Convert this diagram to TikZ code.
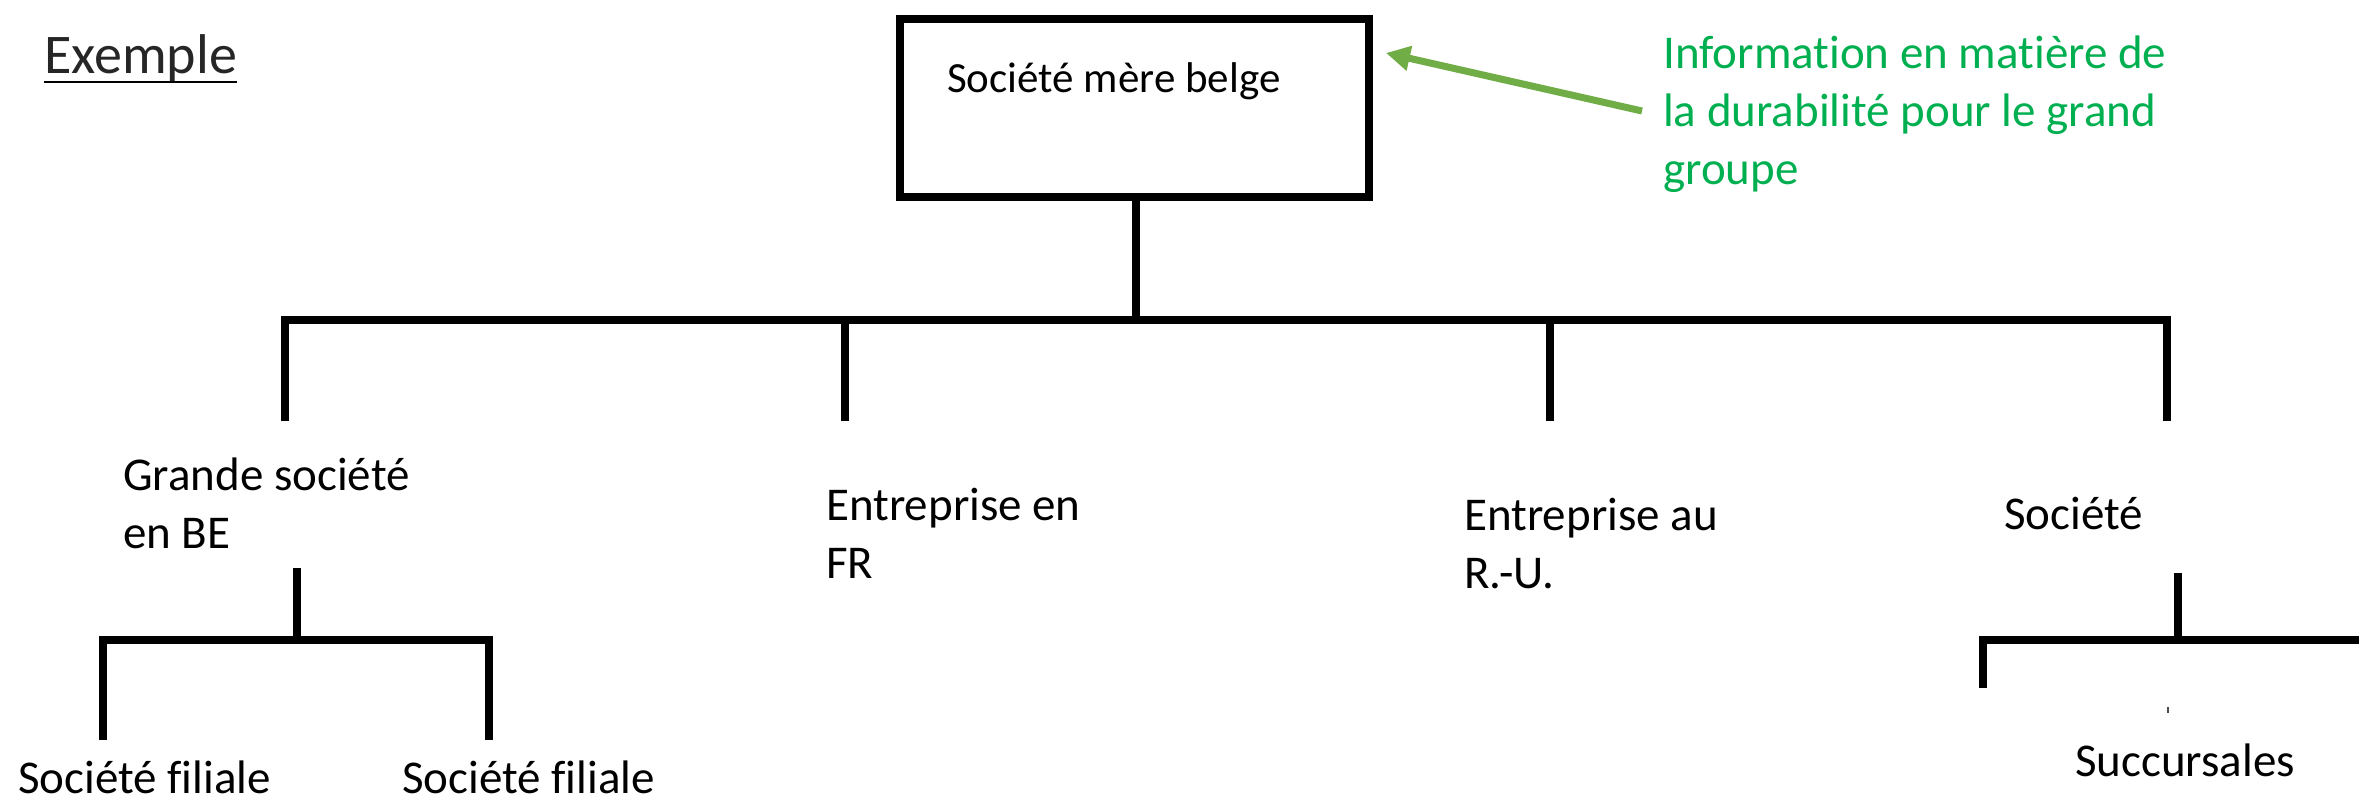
\documentclass[tikz,border=0pt]{standalone}
\usepackage{fontspec}
\setmainfont[RawFeature={-liga;-clig;-calt;-dlig}]{Carlito}
\usetikzlibrary{arrows.meta}
\definecolor{arrowgreen}{HTML}{70AD47}
\definecolor{txtgreen}{HTML}{00B050}
\newcommand{\twoln}[2]{\vtop{\hbox{#1}\hbox{#2}}}
\newcommand{\threeln}[3]{\vtop{\hbox{#1}\hbox{#2}\hbox{#3}}}
\begin{document}
\begin{tikzpicture}[x=1pt,y=-1pt,
  tree/.style={line width=7.5pt, line join=miter},
  lbl/.style={anchor=base west, inner sep=0pt, font=\fontsize{47pt}{58pt}\selectfont}]
\useasboundingbox (0,0) rectangle (2359,801);
\fill[white] (0,0) rectangle (2359,801);

% title
\node[anchor=base west, inner sep=0pt, font=\fontsize{56pt}{68pt}\selectfont, text=black!85] (ex) at (44,73) {Exemple};
\draw[line width=2.5pt] ([yshift=-9pt]ex.base west) -- ([yshift=-9pt]ex.base east);

% parent box
\node[draw, line width=7.5pt, minimum width=469pt, minimum height=178pt, inner sep=0pt, anchor=north west] (mere) at (896,15) {};
\node[anchor=base west, inner sep=0pt, font=\fontsize{43pt}{52pt}\selectfont] (meretxt) at (947,92) {Société mère belge};

% green note and arrow
\node[lbl, text=txtgreen] (info) at (1663,68) {\threeln{Information en matière de}{la durabilité pour le grand}{groupe}};
\coordinate (atail) at (1642,111);
\coordinate (atip) at (1386,53);
\draw[line width=7pt, arrowgreen, -{Triangle[length=24pt,width=24pt]}] (atail) -- (atip);

% top tree
\coordinate (j0) at (1136,320);
\coordinate (d1) at (285,421);
\coordinate (d2) at (845,421);
\coordinate (d3) at (1550,421);
\coordinate (d4) at (2167,421);
\draw[tree] (mere.south -| j0) -- (j0);
\draw[tree] (d1) -- (d1 |- j0) -- (d4 |- j0) -- (d4);
\draw[tree] (d2 |- j0) -- (d2);
\draw[tree] (d3 |- j0) -- (d3);

% second level labels
\node[lbl] (gbe) at (123,490) {\twoln{Grande société}{en BE}};
\node[lbl] (efr) at (826,520) {\twoln{Entreprise en}{FR}};
\node[lbl] (eru) at (1464,530) {\twoln{Entreprise au}{R.-U.}};
\node[lbl] (soc) at (2004,529) {Société};

% lower left tree
\coordinate (s1) at (297,568);
\coordinate (j1) at (297,640);
\coordinate (f1) at (103,740);
\coordinate (f2) at (489,740);
\draw[tree] (s1) -- (j1);
\draw[tree] (f1) -- (f1 |- j1) -- (f2 |- j1) -- (f2);
\node[lbl] (sf1) at (18,793) {Société filiale};
\node[lbl] (sf2) at (402,793) {Société filiale};

% lower right tree
\coordinate (s2) at (2178,573);
\coordinate (j2) at (2178,640);
\coordinate (b2) at (1983,688);
\coordinate (e2) at (2365,640);
\draw[tree] (s2) -- (j2);
\draw[tree] (b2) -- (b2 |- j2) -- (e2);
\coordinate (t1) at (2168,707);
\coordinate (t2) at (2168,713);
\draw[line width=1.2pt, black!70] (t1) -- (t2);
\node[lbl] (succ) at (2075,776) {Succursales};
\end{tikzpicture}
\end{document}
